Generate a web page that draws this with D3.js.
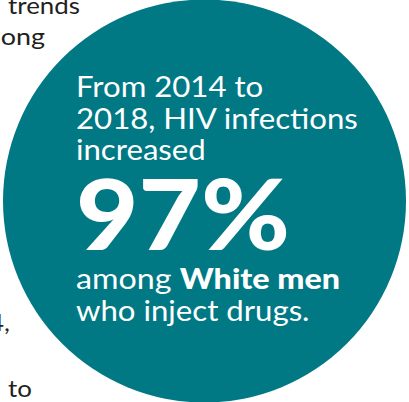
<!DOCTYPE html>
<html>
<head>
<meta charset="utf-8">
<script src="https://cdn.jsdelivr.net/npm/d3@7"></script>
<style>
  html, body { margin: 0; padding: 0; background: #ffffff; }
  svg { display: block; }
</style>
</head>
<body>
<script>
// ---- data ----
const startYear = 2014;
const endYear = 2018;
const percentIncrease = 97;
const headlineLines = ["From " + startYear + " to", endYear + ", HIV infections", "increased"];
const groupPrefix = "among ";
const groupBold = "White men";
const groupSuffixLine = "who inject drugs.";
const sideFragments = ["trends", "among", "2014,", "to"];

const W = 409, H = 402;
const svg = d3.select("body").append("svg").attr("width", W).attr("height", H);

const cx = 204.5, cy = 201, r = 201.5;
svg.append("circle").attr("cx", cx).attr("cy", cy).attr("r", r).attr("fill", "#007985");

const font = "Lato, 'Open Sans', sans-serif";

// place a text at (x,y), stretched horizontally to a target width (or by a given factor)
function placeText(parent, x, y, size, opts) {
  const gg = parent.append("g");
  const t = gg.append("text").attr("font-size", size);
  if (opts.anchor) t.attr("text-anchor", opts.anchor);
  if (opts.weight) t.attr("font-weight", opts.weight);
  if (opts.build) opts.build(t); else t.text(opts.text);
  let sx = opts.sx || 1;
  if (opts.width) sx = opts.width / t.node().getComputedTextLength();
  gg.attr("transform", `translate(${x},${y}) scale(${sx},1)`);
  return sx;
}

// side fragments of surrounding body text, clipped by the frame
const side = svg.append("g").attr("fill", "#231f20").attr("font-family", font);
const sideSx = placeText(side, 8, 14, 24, {text: sideFragments[0], width: 72});
placeText(side, 45, 45, 24, {text: sideFragments[1], anchor: "end", sx: sideSx * 1.04});
placeText(side, 10, 331, 24, {text: sideFragments[2], anchor: "end", sx: sideSx});
placeText(side, 8, 397, 24, {text: sideFragments[3], sx: sideSx});

const tx = 76;
const g = svg.append("g").attr("fill", "#ffffff").attr("font-family", font);

// regular lines share one horizontal stretch, fitted on the longest line
const lineY = [97, 129, 160];
const sx = placeText(g, tx, lineY[1], 28, {text: headlineLines[1], width: 282});
placeText(g, tx, lineY[0], 28, {text: headlineLines[0], sx: sx});
placeText(g, tx, lineY[2], 28, {text: headlineLines[2], sx: sx});

placeText(g, tx, 250, 98, {text: percentIncrease + "%", weight: 900, width: 214});

placeText(g, tx, 289, 28, {width: 264, build: t => {
  t.append("tspan").text(groupPrefix);
  t.append("tspan").attr("font-weight", 900).text(groupBold);
}});
placeText(g, tx, 321, 28, {text: groupSuffixLine, sx: sx});
</script>
</body>
</html>
